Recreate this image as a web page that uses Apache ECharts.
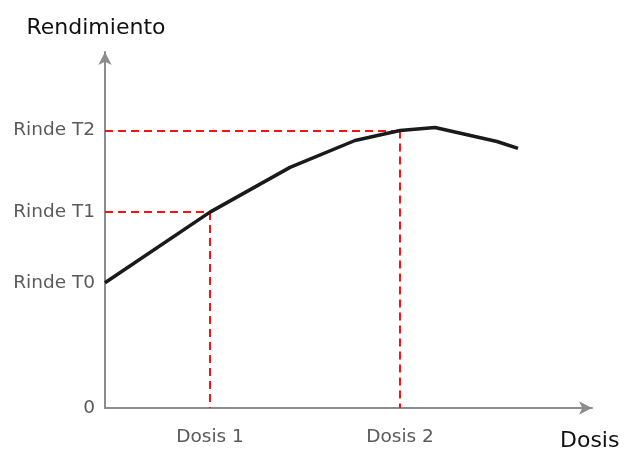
<!DOCTYPE html>
<html>
<head>
<meta charset="utf-8">
<script src="https://cdn.jsdelivr.net/npm/echarts@6/dist/echarts.min.js"></script>
<style>
  html, body { margin: 0; padding: 0; background: #fff; }
  #chart { width: 625px; height: 452px; }
</style>
</head>
<body>
<div id="chart"></div>
<script>
// Yield response curve: dose (x) vs. yield (y), in arbitrary units
const doseValues  = [0, 105, 185, 250, 295, 330, 392, 413];
const yieldValues = [126, 197, 242, 269, 279, 282, 268, 261];

// Reference levels on the yield axis
const yieldLevels = [0, 126, 197, 279];
const yieldLevelNames = ['0', 'Rinde T0', 'Rinde T1', 'Rinde T2'];

// Reference doses on the dose axis and the yields they reach
const doseLevels = [105, 295];
const doseLevelNames = ['Dosis 1', 'Dosis 2'];
const doseLevelYields = [197, 279];

const X_MAX = 487;
const Y_MAX = 358;

const curve = doseValues.map((d, i) => [d, yieldValues[i]]);

// Dashed guides: horizontal from the yield axis, vertical down to the dose axis
const guides = [];
doseLevels.forEach((d, i) => {
  const y = doseLevelYields[i];
  guides.push([{ coord: [0, y] }, { coord: [d, y] }]);
  guides.push([{ coord: [d, y] }, { coord: [d, 0] }]);
});

const axisGray = '#8c8c8c';
const labelGray = '#5a5a5a';
const font = 'DejaVu Sans';

const chart = echarts.init(document.getElementById('chart'), null, { renderer: 'canvas' });
chart.setOption({
  animation: false,
  backgroundColor: '#fff',
  grid: { left: 105, right: 33, top: 52, bottom: 42, containLabel: false },
  xAxis: {
    type: 'value',
    min: 0,
    max: X_MAX,
    name: 'Dosis',
    nameLocation: 'end',
    nameGap: -32,
    nameTextStyle: {
      fontFamily: font, fontSize: 22, color: '#111',
      align: 'left', verticalAlign: 'top', padding: [22, 0, 0, 0]
    },
    axisLine: {
      show: true,
      symbol: ['none', 'arrow'],
      symbolSize: [10, 13],
      lineStyle: { color: axisGray, width: 2 }
    },
    axisTick: { show: false },
    splitLine: { show: false },
    axisLabel: {
      customValues: doseLevels,
      margin: 20,
      fontFamily: font,
      fontSize: 18.5,
      color: labelGray,
      formatter: v => doseLevelNames[doseLevels.indexOf(v)] || ''
    }
  },
  yAxis: {
    type: 'value',
    min: 0,
    max: Y_MAX,
    name: 'Rendimiento',
    nameLocation: 'end',
    nameGap: 13,
    nameTextStyle: {
      fontFamily: font, fontSize: 22, color: '#111',
      align: 'center', padding: [0, 18, 0, 0]
    },
    axisLine: {
      show: true,
      symbol: ['none', 'arrow'],
      symbolSize: [10, 13],
      lineStyle: { color: axisGray, width: 2 }
    },
    axisTick: { show: false },
    splitLine: { show: false },
    axisLabel: {
      customValues: yieldLevels,
      margin: 10,
      fontFamily: font,
      fontSize: 18.5,
      color: labelGray,
      formatter: v => yieldLevelNames[yieldLevels.indexOf(v)] || ''
    }
  },
  series: [{
    type: 'line',
    data: curve,
    showSymbol: false,
    smooth: false,
    lineStyle: { color: '#1a1a1a', width: 3.5 },
    z: 3,
    markLine: {
      silent: true,
      symbol: ['none', 'none'],
      label: { show: false },
      lineStyle: { color: '#ff1010', width: 2, type: [8, 5] },
      data: guides,
      z: 2
    }
  }]
});
</script>
</body>
</html>
